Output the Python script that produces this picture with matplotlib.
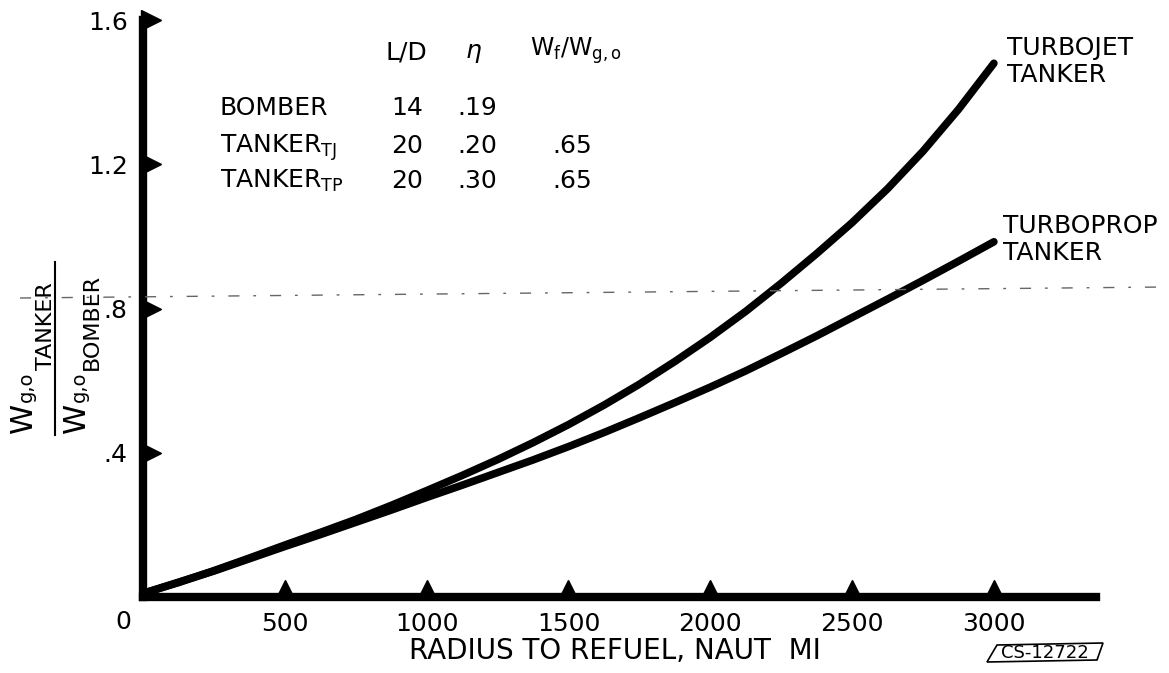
import matplotlib
matplotlib.use("Agg")
import matplotlib.pyplot as plt
from matplotlib.lines import Line2D
from matplotlib.patches import Polygon
from matplotlib.transforms import offset_copy

# Values
radius = [0, 125, 250, 375, 500, 625, 750, 875, 1000, 1125, 1250, 1375, 1500,
          1625, 1750, 1875, 2000, 2125, 2250, 2375, 2500, 2625, 2750, 2875, 3000]
turbojet = [0.01, 0.04, 0.073, 0.108, 0.144, 0.179, 0.215, 0.254, 0.295, 0.337, 0.381, 0.428, 0.478,
            0.532, 0.59, 0.653, 0.72, 0.792, 0.87, 0.952, 1.038, 1.132, 1.236, 1.352, 1.48]
turboprop = [0.01, 0.041, 0.072, 0.106, 0.14, 0.173, 0.207, 0.241, 0.276, 0.31, 0.345, 0.38, 0.417,
             0.456, 0.497, 0.539, 0.582, 0.627, 0.675, 0.724, 0.775, 0.826, 0.878, 0.931, 0.985]

x_ticks = [500, 1000, 1500, 2000, 2500, 3000]
y_ticks = [0.4, 0.8, 1.2, 1.6]
y_tick_labels = [".4", ".8", "1.2", "1.6"]

table_rows = ["BOMBER", r"TANKER$_\mathrm{TJ}$", r"TANKER$_\mathrm{TP}$"]
table_ld = ["14", "20", "20"]
table_eta = [".19", ".20", ".30"]
table_wf = ["", ".65", ".65"]

plt.rcParams["font.family"] = "DejaVu Sans"
plt.rcParams["mathtext.fontset"] = "dejavusans"

W, H = 1169, 673
fig = plt.figure(figsize=(W / 100, H / 100), dpi=100)


def fx(px):
    return px / W


def fy(py):
    return 1 - py / H


ax = fig.add_axes([fx(143), fy(597), (1096 - 143) / W, (597 - 20) / H])
ax.set_xlim(0, 3360)
ax.set_ylim(0, 1.6)

for side in ["top", "right"]:
    ax.spines[side].set_visible(False)
for side in ["left", "bottom"]:
    ax.spines[side].set_linewidth(6)
    ax.spines[side].set_capstyle("projecting")

ax.set_xticks(x_ticks)
ax.set_xticklabels([str(v) for v in x_ticks])
ax.set_yticks(y_ticks)
ax.set_yticklabels(y_tick_labels)
ax.tick_params(length=0, pad=11, labelsize=18)

# triangular tick marks
up = offset_copy(ax.transData, fig=fig, y=10, units="dots")
ax.plot(x_ticks, [0] * len(x_ticks), "^", ms=10, color="k", transform=up, clip_on=False)
right = offset_copy(ax.transData, fig=fig, x=8, units="dots")
ax.plot([0] * len(y_ticks), y_ticks, ">", ms=14, color="k", transform=right, clip_on=False)

ax.plot(radius, turbojet, color="k", lw=5.5, solid_capstyle="round",
        solid_joinstyle="round", clip_on=False)
ax.plot(radius, turboprop, color="k", lw=5.5, solid_capstyle="round",
        solid_joinstyle="round", clip_on=False)

fig.text(fx(123), fy(622), "0", fontsize=18, ha="center", va="center")
fig.text(fx(615), fy(651), "RADIUS TO REFUEL, NAUT  MI", fontsize=20, ha="center", va="center")

fig.text(fx(1007), fy(36), "TURBOJET\nTANKER", fontsize=18, ha="left", va="top", linespacing=1.15)
fig.text(fx(1003), fy(214), "TURBOPROP\nTANKER", fontsize=18, ha="left", va="top", linespacing=1.15)

# parameter table
fig.text(fx(406), fy(60), "L/D", fontsize=18, ha="center", va="baseline")
fig.text(fx(474), fy(58), r"$\eta$", fontsize=18, ha="center", va="baseline")
fig.text(fx(576), fy(56), r"W$_\mathrm{f}$/W$_\mathrm{g,o}$", fontsize=17, ha="center", va="baseline")
row_base = [115, 153, 188]
for name, ld, eta, wf, yb in zip(table_rows, table_ld, table_eta, table_wf, row_base):
    fig.text(fx(220), fy(yb), name, fontsize=18, ha="left", va="baseline")
    fig.text(fx(407), fy(yb), ld, fontsize=18, ha="center", va="baseline")
    fig.text(fx(477), fy(yb), eta, fontsize=18, ha="center", va="baseline")
    fig.text(fx(572), fy(yb), wf, fontsize=18, ha="center", va="baseline")

# y label as a stacked fraction
rot = dict(rotation=90, rotation_mode="anchor", ha="left", va="baseline")
fig.text(fx(32), fy(433), "W", fontsize=22, **rot)
fig.text(fx(32), fy(402), "g,o", fontsize=14, **rot)
fig.text(fx(52), fy(370), "TANKER", fontsize=16, **rot)
fig.text(fx(85), fy(433), "W", fontsize=22, **rot)
fig.text(fx(85), fy(402), "g,o", fontsize=14, **rot)
fig.text(fx(98), fy(370), "BOMBER", fontsize=16, **rot)
fig.add_artist(Line2D([fx(55), fx(55)], [fy(262), fy(435)], color="k", lw=1.5))

# faint dash-dot scan line
fig.add_artist(Line2D([fx(20), fx(1165)], [fy(298), fy(287)], color="0.4", lw=1,
                      linestyle=(0, (8, 10, 2, 10))))

# drawing number box
box = Polygon([(fx(997), fy(645)), (fx(1103), fy(643)), (fx(1097), fy(660)), (fx(987), fy(662))],
              closed=True, fill=False, lw=1.2, edgecolor="k", transform=fig.transFigure)
fig.add_artist(box)
fig.text(fx(1045), fy(653), "CS-12722", fontsize=13, ha="center", va="center")

fig.savefig("out.png", dpi=100)
